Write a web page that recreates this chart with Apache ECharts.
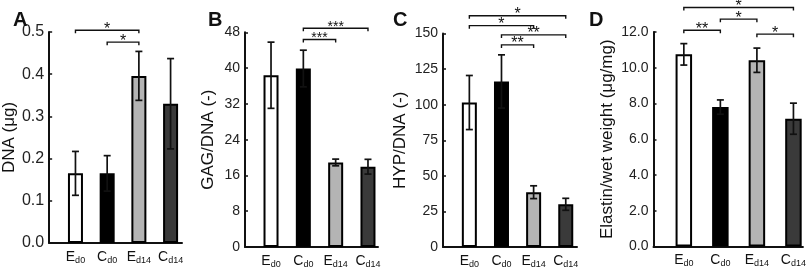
<!DOCTYPE html>
<html><head><meta charset="utf-8">
<script src="https://cdn.jsdelivr.net/npm/echarts@6/dist/echarts.min.js"></script>
<style>html,body{margin:0;padding:0;background:#fff}#c{width:809px;height:269px}</style>
</head><body><div id="c"></div>
<script>
// ---- data ----
const catMain = ['E', 'C', 'E', 'C'];
const catSub = ['d0', 'd0', 'd14', 'd14'];
const panelLetters = ['A', 'B', 'C', 'D'];
const yNames = ['DNA (μg)', 'GAG/DNA (-)', 'HYP/DNA (-)', 'Elastin/wet weight (μg/mg)'];

const dnaMean = [0.165, 0.165, 0.396, 0.330];
const dnaErr = [0.052, 0.042, 0.058, 0.107];
const gagMean = [38.4, 39.9, 18.9, 17.95];
const gagErr = [7.4, 4.1, 0.75, 1.65];
const hypMean = [101.5, 116.3, 38.5, 30.0];
const hypErr = [19.0, 18.7, 4.5, 4.2];
const elaMean = [10.75, 7.8, 10.42, 7.15];
const elaErr = [0.6, 0.4, 0.68, 0.87];

// significance brackets: [fromCategory, toCategory, level, label]
const sigA = [[1, 3, 0.504, '*'], [2, 3, 0.476, '*']];
const sigB = [[2, 4, 48.9, '***'], [2, 3, 46.4, '***']];
const sigC = [[1, 4, 162.5, '*'], [1, 3, 155.5, '*'], [2, 4, 149.0, '**'], [2, 3, 142.0, '**']];
const sigD = [[1, 4, 13.37, '*'], [2, 3, 12.72, '*'], [1, 2, 12.1, '**'], [3, 4, 11.88, '*']];

// y axis ranges (ticks)
const yMax = [0.5, 48, 150, 12];
const yStep = [0.1, 8, 25, 2];
const yDecimals = [1, 0, 0, 1];

// ---- styles / layout ----
const barColors = ['#ffffff', '#000000', '#b4b4b4', '#3a3a3a'];
const FONT = 'Arial, "Liberation Sans", sans-serif';
const grids = [
  {left: 47, top: 32, width: 135, height: 211},
  {left: 245, top: 32.3, width: 133, height: 214.7},
  {left: 443, top: 33.5, width: 134, height: 214},
  {left: 653.5, top: 32, width: 150, height: 214.5}
];
const xRange = [[0.17, 4.36], [0.195, 4.31], [0.18, 4.35], [0.17, 4.26]];
const barW = [15, 15, 15, 16.5];
const nameGaps = [31, 28.5, 34.5, 38];
const tickFont = [16, 14, 14, 14];
const starFont = [16, 14, 16, 16];
const letterPos = [[8, 5], [203, 5], [388, 5], [584, 5]];

const means = [dnaMean, gagMean, hypMean, elaMean];
const errs = [dnaErr, gagErr, hypErr, elaErr];
const sigs = [sigA, sigB, sigC, sigD];

const chart = echarts.init(document.getElementById('c'), null, {renderer: 'canvas'});

const xAxes = [], yAxes = [], series = [], titles = [];
for (let p = 0; p < 4; p++) {
  titles.push({text: panelLetters[p], left: letterPos[p][0], top: letterPos[p][1],
    textStyle: {fontFamily: FONT, fontWeight: 'bold', fontSize: 20, color: '#111'}});
  xAxes.push({
    type: 'value', gridIndex: p, min: xRange[p][0], max: xRange[p][1],
    splitLine: {show: false},
    axisLine: {show: true, onZero: false, lineStyle: {color: '#111', width: 2}},
    axisTick: {show: false},
    axisLabel: {
      show: true, customValues: [1, 2, 3, 4], margin: 6,
      formatter: v => {
        const i = Math.round(v) - 1;
        return '{m|' + catMain[i] + '}{s|' + catSub[i] + '}';
      },
      rich: {
        m: {fontFamily: FONT, fontSize: 14, color: '#111', lineHeight: 16},
        s: {fontFamily: FONT, fontSize: 9, color: '#111', lineHeight: 10, verticalAlign: 'bottom', padding: [10, 0, 0, 0]}
      }
    }
  });
  yAxes.push({
    type: 'value', gridIndex: p, min: 0, max: yMax[p], interval: yStep[p],
    name: yNames[p], nameLocation: 'middle', nameGap: nameGaps[p],
    nameTextStyle: {fontFamily: FONT, fontSize: 17, color: '#111'},
    splitLine: {show: false},
    axisLine: {show: true, lineStyle: {color: '#111', width: 2}},
    axisTick: {show: true, inside: true, length: 3, lineStyle: {color: '#111', width: 1.5}},
    axisLabel: {fontFamily: FONT, fontSize: tickFont[p], color: '#222', margin: 5,
      formatter: v => v.toFixed(yDecimals[p])}
  });
  series.push({
    type: 'bar', xAxisIndex: p, yAxisIndex: p, barWidth: barW[p],
    data: means[p].map((m, i) => ({value: [i + 1, m],
      itemStyle: {color: barColors[i], borderColor: '#000', borderWidth: 2}})),
    z: 2
  });
  series.push({
    type: 'custom', xAxisIndex: p, yAxisIndex: p, clip: false, z: 3,
    data: means[p].map((m, i) => [i + 1, m, errs[p][i]]),
    encode: {x: 0, y: 1},
    renderItem: (params, api) => {
      const x = api.value(0), m = api.value(1), e = api.value(2);
      const t = api.coord([x, m + e]), b = api.coord([x, m - e]);
      const hw = 3.5, st = {stroke: '#111', lineWidth: 1.7};
      return {type: 'group', children: [
        {type: 'line', shape: {x1: t[0], y1: t[1], x2: b[0], y2: b[1]}, style: st},
        {type: 'line', shape: {x1: t[0] - hw, y1: t[1], x2: t[0] + hw, y2: t[1]}, style: st},
        {type: 'line', shape: {x1: b[0] - hw, y1: b[1], x2: b[0] + hw, y2: b[1]}, style: st}
      ]};
    }
  });
  const sg = sigs[p];
  series.push({
    type: 'custom', xAxisIndex: p, yAxisIndex: p, clip: false, z: 4,
    data: sg.map(s => [s[0], s[1], s[2]]),
    encode: {x: [0, 1], y: 2},
    renderItem: (params, api) => {
      const a = api.coord([api.value(0), api.value(2)]);
      const b = api.coord([api.value(1), api.value(2)]);
      const lab = sg[params.dataIndex][3];
      return {type: 'group', children: [
        {type: 'polyline', shape: {points: [[a[0], a[1] + 3], [a[0], a[1]], [b[0], b[1]], [b[0], b[1] + 3]]},
          style: {stroke: '#111', lineWidth: 1.4, fill: null}},
        {type: 'text', style: {text: lab, x: (a[0] + b[0]) / 2, y: a[1] - 1,
          align: 'center', verticalAlign: 'middle', fontFamily: FONT, fontSize: starFont[p], fill: '#111'}}
      ]};
    }
  });
}

chart.setOption({
  animation: false,
  backgroundColor: '#fff',
  title: titles,
  grid: grids,
  xAxis: xAxes,
  yAxis: yAxes,
  series: series
});
</script></body></html>
